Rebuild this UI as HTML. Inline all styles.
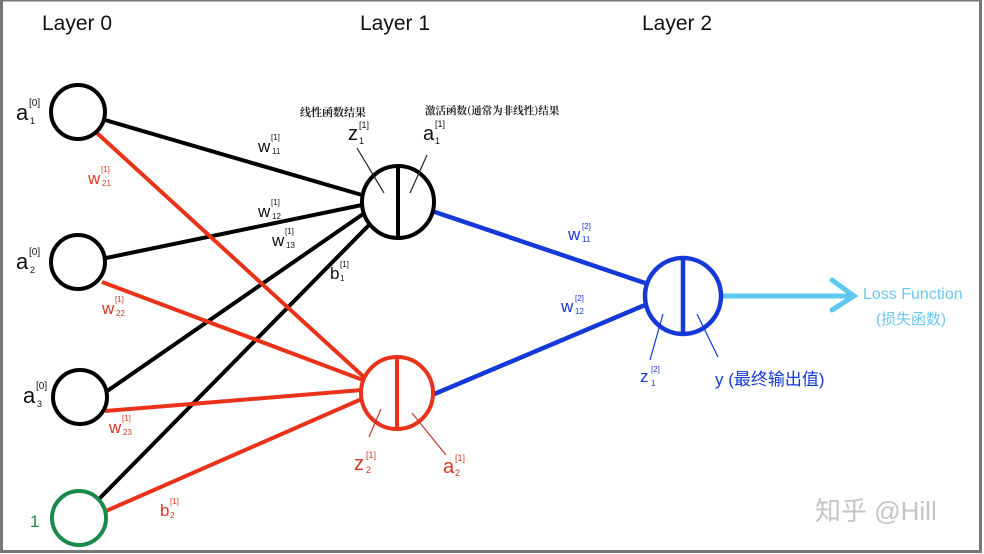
<!DOCTYPE html>
<html><head><meta charset="utf-8"><style>
html,body{margin:0;padding:0;background:#fff}
svg{display:block}
text{font-family:"Liberation Sans","Noto Sans CJK SC",sans-serif}
.cn{font-family:"Noto Serif CJK SC","Noto Sans CJK SC",serif}
</style></head><body>
<svg width="984" height="554" viewBox="0 0 984 554" xmlns="http://www.w3.org/2000/svg">
<rect x="1.5" y="0" width="979" height="551.5" fill="#fff" stroke="#777" stroke-width="3"/>
<text x="42" y="30" font-size="21" fill="#111">Layer 0</text>
<text x="360" y="30" font-size="21" fill="#111">Layer 1</text>
<text x="642" y="30" font-size="21" fill="#111">Layer 2</text>
<g stroke="#000" stroke-width="4" fill="none">
<line x1="105" y1="120" x2="362" y2="195"/>
<line x1="106" y1="258" x2="362" y2="205"/>
<line x1="100" y1="396" x2="366" y2="212"/>
<line x1="98" y1="500" x2="372" y2="222"/>
</g>
<g stroke="#e8321a" stroke-width="4" fill="none">
<line x1="97" y1="133" x2="365" y2="378"/>
<line x1="102" y1="282" x2="363" y2="380"/>
<line x1="105" y1="411" x2="362" y2="390"/>
<line x1="106" y1="511" x2="364" y2="398"/>
</g>
<g stroke="#1538d8" stroke-width="4.5" fill="none">
<line x1="432" y1="211" x2="645" y2="283"/>
<line x1="432" y1="395" x2="645" y2="305"/>
</g>
<g stroke="#5ec8ef" stroke-width="5" fill="none" stroke-linecap="round">
<line x1="723" y1="296" x2="852" y2="296"/>
<polyline points="832,280 854,296 832,310"/>
</g>
<g fill="#fff" stroke-width="4">
<circle cx="78" cy="112" r="27" stroke="#000"/>
<circle cx="78" cy="262" r="27" stroke="#000"/>
<circle cx="80" cy="397" r="27" stroke="#000"/>
<circle cx="79" cy="518" r="27" stroke="#1a8a4a"/>
</g>
<circle cx="398" cy="202" r="36" fill="#fff" stroke="#000" stroke-width="4"/>
<line x1="398" y1="167" x2="398" y2="238" stroke="#000" stroke-width="4"/>
<circle cx="397" cy="393" r="36" fill="#fff" stroke="#e8321a" stroke-width="4"/>
<line x1="397" y1="357" x2="397" y2="429" stroke="#e8321a" stroke-width="4"/>
<circle cx="683" cy="296" r="38" fill="#fff" stroke="#1538d8" stroke-width="4.5"/>
<line x1="683" y1="258" x2="683" y2="334" stroke="#1538d8" stroke-width="4.5"/>
<g stroke-width="1.2" fill="none">
<line x1="357" y1="148" x2="384" y2="193" stroke="#222"/>
<line x1="427" y1="155" x2="410" y2="193" stroke="#222"/>
<line x1="381" y1="409" x2="369" y2="437" stroke="#c0392b"/>
<line x1="412" y1="413" x2="446" y2="455" stroke="#c0392b"/>
<line x1="663" y1="314" x2="650" y2="360" stroke="#1538d8"/>
<line x1="697" y1="314" x2="718" y2="357" stroke="#1538d8"/>
</g>
<g fill="#111">
<text x="16" y="120" font-size="22">a</text><text x="29" y="106" font-size="10">[0]</text><text x="30" y="124" font-size="9">1</text>
<text x="16" y="269" font-size="22">a</text><text x="29" y="255" font-size="10">[0]</text><text x="30" y="273" font-size="9">2</text>
<text x="23" y="403" font-size="22">a</text><text x="36" y="389" font-size="10">[0]</text><text x="37" y="407" font-size="9">3</text>
</g>
<text x="30" y="527" font-size="17" fill="#1a8a4a">1</text>
<g fill="#111">
<text x="258" y="152" font-size="17">w</text><text x="271" y="140" font-size="8">[1]</text><text x="272" y="154" font-size="8">11</text>
<text x="258" y="217" font-size="17">w</text><text x="271" y="205" font-size="8">[1]</text><text x="272" y="219" font-size="8">12</text>
<text x="272" y="246" font-size="17">w</text><text x="285" y="234" font-size="8">[1]</text><text x="286" y="248" font-size="8">13</text>
<text x="330" y="279" font-size="17">b</text><text x="340" y="267" font-size="8">[1]</text><text x="340" y="281" font-size="8">1</text>
<text x="348" y="140" font-size="20">z</text><text x="359" y="128" font-size="9">[1]</text><text x="359" y="144" font-size="9">1</text>
<text x="423" y="140" font-size="20">a</text><text x="435" y="127" font-size="9">[1]</text><text x="435" y="144" font-size="9">1</text>
</g>
<text class="cn" x="300" y="116" font-size="11" fill="#222" font-weight="bold">线性函数结果</text>
<text class="cn" x="425" y="114" font-size="10.5" fill="#222" font-weight="bold">激活函数(通常为非线性)结果</text>
<g fill="#d9381e">
<text x="88" y="184" font-size="17">w</text><text x="101" y="172" font-size="8">[1]</text><text x="102" y="186" font-size="8">21</text>
<text x="102" y="314" font-size="17">w</text><text x="115" y="302" font-size="8">[1]</text><text x="116" y="316" font-size="8">22</text>
<text x="109" y="433" font-size="17">w</text><text x="122" y="421" font-size="8">[1]</text><text x="123" y="435" font-size="8">23</text>
<text x="160" y="516" font-size="17">b</text><text x="170" y="504" font-size="8">[1]</text><text x="170" y="518" font-size="8">2</text>
<text x="354" y="470" font-size="20">z</text><text x="366" y="458" font-size="9">[1]</text><text x="366" y="473" font-size="9">2</text>
<text x="443" y="473" font-size="20">a</text><text x="455" y="461" font-size="9">[1]</text><text x="455" y="476" font-size="9">2</text>
</g>
<g fill="#1538d8">
<text x="568" y="240" font-size="17">w</text><text x="582" y="229" font-size="8">[2]</text><text x="582" y="242" font-size="8">11</text>
<text x="561" y="312" font-size="17">w</text><text x="575" y="301" font-size="8">[2]</text><text x="575" y="314" font-size="8">12</text>
<text x="640" y="382" font-size="17">z</text><text x="651" y="372" font-size="8">[2]</text><text x="651" y="386" font-size="8">1</text>
<text x="715" y="385" font-size="17">y (最终输出值)</text>
</g>
<text x="863" y="299" font-size="16" fill="#6cc8ef">Loss Function</text>
<text x="876" y="324" font-size="15" fill="#6cc8ef">(损失函数)</text>
<text x="815" y="520" font-size="26" fill="#c4c4c4">知乎 @Hill</text>
</svg>
</body></html>
